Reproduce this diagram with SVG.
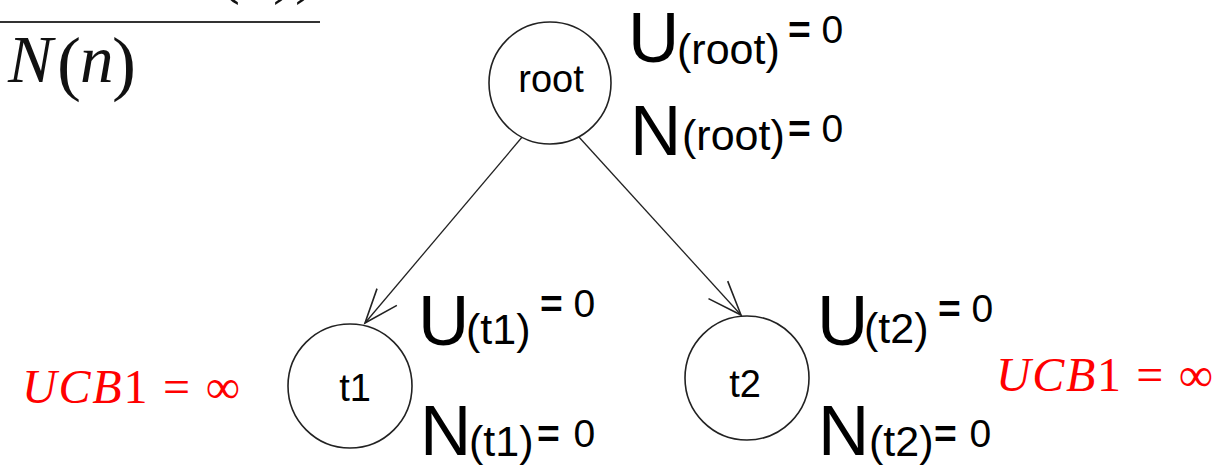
<svg xmlns="http://www.w3.org/2000/svg" width="1220" height="470" viewBox="0 0 1220 470">
<defs>
<style>
.node circle{fill:#fff;stroke:#222;stroke-width:1.6}
.node text.name{font-family:"Liberation Sans",Arial,sans-serif;font-size:38px;fill:#000;text-anchor:middle}
.lbl{font-family:"Liberation Sans",Arial,sans-serif;fill:#000}
.big{font-size:71px}
.sub{font-size:43px}
.eq{font-size:39px}
.eq .e{font-weight:bold}
.conn line{stroke:#222;stroke-width:1.3;fill:none}
.ucb{font-family:"Liberation Serif","Times New Roman",serif;fill:#ff0000;font-size:48px}
.math{font-family:"Liberation Serif","Times New Roman",serif;fill:#111}
</style>
<marker id="arr" markerUnits="userSpaceOnUse" viewBox="-40 -20 45 40" refX="0" refY="0" markerWidth="45" markerHeight="40" orient="auto">
<path d="M-34,-13 L0,0 L-34,13" fill="none" stroke="#222" stroke-width="1.6"/>
</marker>
</defs>
<rect width="1220" height="470" fill="#fff"/>

<g id="formula">
<text class="math" x="218" y="-9" font-size="66"><tspan>(</tspan><tspan font-style="italic">n</tspan><tspan>))</tspan></text>
<line x1="0" y1="22" x2="320" y2="22" stroke="#333" stroke-width="2.2"/>
<text class="math" y="82"><tspan x="8" font-size="67" font-style="italic">N</tspan><tspan x="57" y="87" font-size="72">(</tspan><tspan x="80" y="82" font-size="67" font-style="italic">n</tspan><tspan x="112" y="87" font-size="72">)</tspan></text>
</g>

<g id="connectors" class="conn">
<line x1="523" y1="136" x2="365" y2="323" marker-end="url(#arr)"/>
<line x1="578" y1="136" x2="741" y2="315" marker-end="url(#arr)"/>
</g>

<g id="root" class="node">
<circle cx="550" cy="83" r="61"/>
<text class="name" x="551" y="92">root</text>
<text class="lbl"><tspan class="big" x="628" y="62">U</tspan><tspan class="sub" x="677" y="64">(root)</tspan><tspan class="eq" x="788" y="43"><tspan class="e">=</tspan> 0</tspan></text>
<text class="lbl"><tspan class="big" x="630" y="155">N</tspan><tspan class="sub" x="682" y="150">(root)</tspan><tspan class="eq" x="788" y="142"><tspan class="e">=</tspan> 0</tspan></text>
</g>

<g id="t1" class="node">
<circle cx="350" cy="386" r="62"/>
<text class="name" x="355" y="401">t1</text>
<text class="lbl"><tspan class="big" x="418" y="345">U</tspan><tspan class="sub" x="466" y="344">(t1)</tspan><tspan class="eq" x="540" y="317"><tspan class="e">=</tspan> 0</tspan></text>
<text class="lbl"><tspan class="big" x="420" y="455">N</tspan><tspan class="sub" x="469" y="456">(t1)</tspan><tspan class="eq" x="537" y="447" word-spacing="3"><tspan class="e">=</tspan> 0</tspan></text>
<text class="ucb" x="22" y="403" textLength="218" lengthAdjust="spacing"><tspan font-style="italic">UCB</tspan>1 = ∞</text>
</g>

<g id="t2" class="node">
<circle cx="747" cy="378" r="62"/>
<text class="name" x="745" y="397">t2</text>
<text class="lbl"><tspan class="big" x="817" y="345">U</tspan><tspan class="sub" x="864" y="343">(t2)</tspan><tspan class="eq" x="938" y="322"><tspan class="e">=</tspan> 0</tspan></text>
<text class="lbl"><tspan class="big" x="818" y="455">N</tspan><tspan class="sub" x="869" y="456">(t2)</tspan><tspan class="eq" x="934" y="447" word-spacing="2"><tspan class="e">=</tspan> 0</tspan></text>
<text class="ucb" x="996" y="391" textLength="217" lengthAdjust="spacing"><tspan font-style="italic">UCB</tspan>1 = ∞</text>
</g>
</svg>
